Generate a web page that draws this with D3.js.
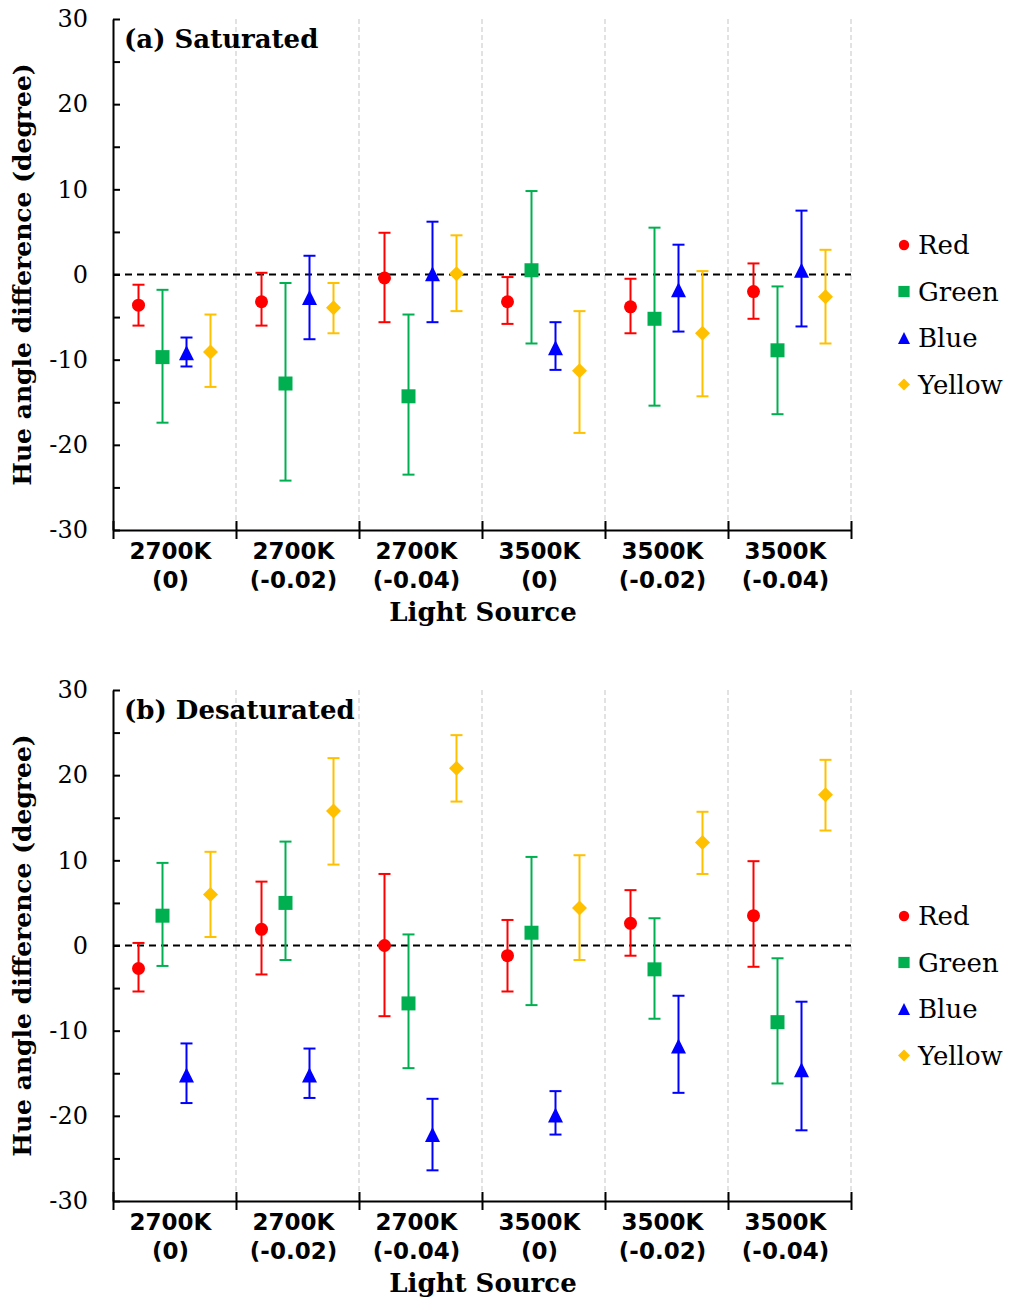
<!DOCTYPE html>
<html>
<head>
<meta charset="utf-8">
<script src="https://cdn.jsdelivr.net/npm/d3@7"></script>
<style>
body { margin: 0; background: #fff; }
svg text { fill: #000; }
</style>
</head>
<body>
<div id="chart"></div>
<script>
// DATA

const catTop = ["2700K", "2700K", "2700K", "3500K", "3500K", "3500K"];
const catBottom = ["(0)", "(-0.02)", "(-0.04)", "(0)", "(-0.02)", "(-0.04)"];
const seriesNames = ["Red", "Green", "Blue", "Yellow"];
const seriesColors = ["#ff0000", "#00b050", "#0000ff", "#ffc000"];
const yTickValues = [-30, -25, -20, -15, -10, -5, 0, 5, 10, 15, 20, 25, 30];

// (a) Saturated - rows follow seriesNames
const satMean = [
  [-3.6, -3.2, -0.4, -3.2, -3.8, -2.0],
  [-9.7, -12.8, -14.3, 0.5, -5.2, -8.9],
  [-9.2, -2.7, 0.1, -8.6, -1.8, 0.5],
  [-9.1, -3.9, 0.1, -11.3, -6.9, -2.6]
];
const satLow = [
  [-6.0, -6.0, -5.6, -5.8, -6.9, -5.2],
  [-17.4, -24.2, -23.5, -8.1, -15.4, -16.4],
  [-10.8, -7.6, -5.6, -11.2, -6.7, -6.1],
  [-13.2, -6.9, -4.3, -18.6, -14.3, -8.1]
];
const satHigh = [
  [-1.2, 0.2, 4.9, -0.3, -0.5, 1.3],
  [-1.8, -1.0, -4.7, 9.8, 5.5, -1.4],
  [-7.4, 2.2, 6.2, -5.6, 3.5, 7.5],
  [-4.7, -1.0, 4.6, -4.3, 0.4, 2.9]
];

// (b) Desaturated
const desMean = [
  [-2.7, 1.9, 0.0, -1.2, 2.6, 3.5],
  [3.5, 5.0, -6.8, 1.5, -2.8, -9.0],
  [-15.2, -15.2, -22.2, -19.9, -11.8, -14.6],
  [6.0, 15.8, 20.8, 4.4, 12.1, 17.7]
];
const desLow = [
  [-5.4, -3.4, -8.3, -5.4, -1.2, -2.5],
  [-2.4, -1.7, -14.4, -7.0, -8.6, -16.2],
  [-18.5, -17.9, -26.4, -22.2, -17.3, -21.7],
  [1.0, 9.5, 16.9, -1.7, 8.4, 13.5]
];
const desHigh = [
  [0.3, 7.5, 8.4, 3.0, 6.5, 9.9],
  [9.7, 12.2, 1.3, 10.4, 3.2, -1.5],
  [-11.5, -12.1, -18.0, -17.1, -5.9, -6.6],
  [11.0, 22.0, 24.7, 10.6, 15.7, 21.8]
];

// LAYOUT

const width = 1010, height = 1299;
const plotLeft = 113, plotRight = 851, plotH = 511;
const serifFont = "'DejaVu Serif', 'Liberation Serif', serif";
const sansFont = "'DejaVu Sans', 'Liberation Sans', sans-serif";

const svg = d3.select("#chart")
  .append("svg")
  .attr("width", width)
  .attr("height", height)
  .attr("viewBox", `0 0 ${width} ${height}`);

const catIndex = d3.range(catTop.length);

const xBand = d3.scaleBand()
  .domain(catIndex)
  .range([plotLeft, plotRight])
  .padding(0);

const xInner = d3.scaleBand()
  .domain(seriesNames)
  .range([0, 96]);

function xPos(i, s) {
  return xBand(i) + (xBand.bandwidth() - 96) / 2 + xInner(s) + xInner.bandwidth() / 2;
}

// marker paths, centred on 0,0
function markerPath(name, k) {
  if (name === "Red") {
    const r = 6.5 * k;
    return `M${-r},0A${r},${r} 0 1,0 ${r},0A${r},${r} 0 1,0 ${-r},0Z`;
  }
  if (name === "Green") {
    const h = 7 * k;
    return `M${-h},${-h}H${h}V${h}H${-h}Z`;
  }
  if (name === "Blue") {
    const w = 7.5 * k, h = 7.5 * k;
    return `M0,${-h}L${w},${h}L${-w},${h}Z`;
  }
  const d = 7.5 * k;
  return `M0,${-d}L${d},0L0,${d}L${-d},0Z`;
}

function drawPanel(top, title, mean, low, high) {

  const y = d3.scaleLinear()
    .domain([-30, 30])
    .range([top + plotH, top]);

  const g = svg.append("g").attr("class", "panel");

  // vertical dashed separators
  g.selectAll(".sep")
    .data(catIndex)
    .enter()
    .append("line")
    .attr("class", "sep")
    .attr("x1", i => xBand(i) + xBand.bandwidth())
    .attr("x2", i => xBand(i) + xBand.bandwidth())
    .attr("y1", top)
    .attr("y2", top + plotH)
    .attr("stroke", "#d9d9d9")
    .attr("stroke-width", 1.5)
    .attr("stroke-dasharray", "5,3");

  // zero line
  g.append("line")
    .attr("x1", plotLeft)
    .attr("x2", plotRight)
    .attr("y1", y(0))
    .attr("y2", y(0))
    .attr("stroke", "#000")
    .attr("stroke-width", 2)
    .attr("stroke-dasharray", "7,5");

  // y axis
  const yAxis = d3.axisLeft(y)
    .tickValues(yTickValues)
    .tickSizeInner(-7)
    .tickSizeOuter(0)
    .tickPadding(25)
    .tickFormat(d => d % 10 === 0 ? String(d) : "");

  const gY = g.append("g")
    .attr("transform", `translate(${plotLeft},0)`)
    .call(yAxis);
  gY.select(".domain").attr("stroke-width", 2);
  gY.selectAll(".tick line").attr("stroke-width", 2);
  gY.selectAll("text")
    .style("font-family", serifFont)
    .style("font-size", "24px");

  // x axis line + crossing ticks
  const xEdge = d3.scaleLinear().domain([0, catTop.length]).range([plotLeft, plotRight]);
  const gX = g.append("g")
    .attr("transform", `translate(0,${top + plotH})`)
    .call(d3.axisBottom(xEdge).ticks(catTop.length).tickSizeInner(9).tickSizeOuter(0).tickFormat(""));
  gX.select(".domain").attr("stroke-width", 2);
  gX.selectAll(".tick line").attr("y1", -9).attr("stroke-width", 2);

  // category labels
  const labels = g.selectAll(".catLabel")
    .data(catIndex)
    .enter()
    .append("text")
    .attr("class", "catLabel")
    .attr("text-anchor", "middle")
    .style("font-family", sansFont)
    .style("font-weight", "bold")
    .style("font-size", "23px");
  labels.append("tspan")
    .attr("x", i => xBand(i) + xBand.bandwidth() / 2 - 4)
    .attr("y", top + plotH + 29)
    .text(i => catTop[i]);
  labels.append("tspan")
    .attr("x", i => xBand(i) + xBand.bandwidth() / 2 - 4)
    .attr("y", top + plotH + 58)
    .text(i => catBottom[i]);

  // x axis title
  g.append("text")
    .attr("x", 483)
    .attr("y", top + plotH + 91)
    .attr("text-anchor", "middle")
    .style("font-family", serifFont)
    .style("font-weight", "bold")
    .style("font-size", "26px")
    .text("Light Source");

  // y axis title
  g.append("text")
    .attr("transform", `translate(31,${y(0)}) rotate(-90)`)
    .attr("text-anchor", "middle")
    .style("font-family", serifFont)
    .style("font-weight", "bold")
    .style("font-size", "25px")
    .text("Hue angle difference (degree)");

  // panel title
  g.append("text")
    .attr("x", plotLeft + 11)
    .attr("y", top + 29)
    .style("font-family", serifFont)
    .style("font-weight", "bold")
    .style("font-size", "26px")
    .text(title);

  // error bars and markers
  seriesNames.forEach((s, si) => {
    const rows = catIndex.map(i => ({ i: i, m: mean[si][i], lo: low[si][i], hi: high[si][i] }));
    const sg = g.append("g").attr("class", "series-" + s);

    sg.selectAll(".bar")
      .data(rows)
      .enter()
      .append("line")
      .attr("x1", d => xPos(d.i, s))
      .attr("x2", d => xPos(d.i, s))
      .attr("y1", d => y(d.lo))
      .attr("y2", d => y(d.hi))
      .attr("stroke", seriesColors[si])
      .attr("stroke-width", 2);

    ["lo", "hi"].forEach(key => {
      sg.selectAll(".cap-" + key)
        .data(rows)
        .enter()
        .append("line")
        .attr("x1", d => xPos(d.i, s) - 6)
        .attr("x2", d => xPos(d.i, s) + 6)
        .attr("y1", d => y(d[key]))
        .attr("y2", d => y(d[key]))
        .attr("stroke", seriesColors[si])
        .attr("stroke-width", 2);
    });

    sg.selectAll(".mark")
      .data(rows)
      .enter()
      .append("path")
      .attr("transform", d => `translate(${xPos(d.i, s)},${y(d.m)})`)
      .attr("d", markerPath(s, 1))
      .attr("fill", seriesColors[si]);
  });

  // legend
  const leg = g.selectAll(".legItem")
    .data(seriesNames)
    .enter()
    .append("g")
    .attr("transform", (s, k) => `translate(904,${top + 226 + k * 46.5})`);
  leg.append("path")
    .attr("d", s => markerPath(s, 0.8))
    .attr("fill", (s, k) => seriesColors[k]);
  leg.append("text")
    .attr("x", 14)
    .attr("y", 9)
    .style("font-family", serifFont)
    .style("font-size", "26px")
    .text(s => s);
}

drawPanel(19, "(a) Saturated", satMean, satLow, satHigh);
drawPanel(690, "(b) Desaturated", desMean, desLow, desHigh);
</script>
</body>
</html>
